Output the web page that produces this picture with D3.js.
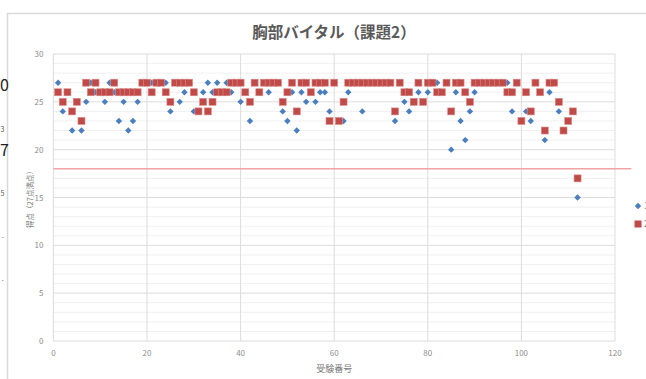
<!DOCTYPE html>
<html lang="ja">
<head>
  <meta charset="UTF-8" />
  <title>胸部バイタル（課題2）</title>
  <style>
    body { margin: 0; background: #fff; }
    svg { display: block; font-family: "Noto Sans CJK JP", "Noto Sans", sans-serif; }
    .tick-label { fill: #8c8c8c; font-size: 8px; }
  </style>
</head>
<body>
  <svg width="646" height="379"></svg>
  <script src="https://d3js.org/d3.v7.min.js"></script>
  <script>
    // 受験番号 1..112
    const ids = d3.range(1, 113);

    // series 1 (blue diamonds)
    const blueScores = [
      27,24,26,22,25,22,25,27,26,26,
      25,27,26,23,25,22,23,25,27,27,
      27,27,27,27,24,27,25,26,27,24,
      24,26,27,26,27,26,27,26,27,25,
      26,23,27,26,27,26,27,27,24,23,
      26,22,26,25,26,25,26,26,24,27,
      23,23,26,27,27,24,27,27,27,27,
      27,27,23,27,25,24,25,26,25,26,
      27,27,26,27,20,26,23,21,24,26,
      27,27,27,27,27,27,27,24,27,23,
      24,23,27,26,21,26,27,24,22,23,24,15
    ];

    // series 2 (red squares)
    const redScores = [
      26,25,26,24,25,23,27,26,27,26,
      26,26,27,26,26,26,26,26,27,27,
      26,27,27,26,25,27,27,27,27,26,
      24,25,24,25,26,26,26,27,27,27,
      26,25,27,26,27,27,27,27,25,26,
      27,24,27,27,26,27,27,27,23,27,
      23,25,27,27,27,27,27,27,27,27,
      27,27,24,27,26,26,25,27,25,27,
      27,26,26,27,24,27,27,26,25,27,
      27,27,27,27,27,27,26,26,27,23,
      26,24,27,26,22,27,27,25,22,23,24,17
    ];

    const xTicks = [0, 20, 40, 60, 80, 100, 120];
    const yTicks = [0, 5, 10, 15, 20, 25, 30];
    const passLine = 18;

    const svg = d3.select("svg");

    const x = d3.scaleLinear().domain([0, 120]).range([53.4, 615]);
    const y = d3.scaleLinear().domain([0, 30]).range([341, 54]);

    // chart frame
    svg.append("path")
      .attr("d", "M7.5,380 V13.5 H650")
      .attr("fill", "none")
      .attr("stroke", "#d9d9d9")
      .attr("stroke-width", 1.5);

    // bits of the page behind the chart, at the left edge
    const edge = svg.append("g").attr("fill", "#222");
    edge.append("text").attr("x", 0).attr("y", 91).attr("font-size", 16).text("0");
    edge.append("text").attr("x", 0).attr("y", 156).attr("font-size", 16).text("7");
    edge.append("text").attr("x", 0.5).attr("y", 132).attr("font-size", 7).attr("fill", "#555").text("3");
    edge.append("text").attr("x", 0.5).attr("y", 196).attr("font-size", 7).attr("fill", "#555").text("5");
    edge.append("text").attr("x", 0.5).attr("y", 240).attr("font-size", 8).attr("fill", "#777").text("·");
    edge.append("text").attr("x", 0.5).attr("y", 283).attr("font-size", 8).attr("fill", "#777").text("·");

    // minor horizontal grid
    svg.append("g")
      .selectAll("line")
      .data(d3.range(0, 31).filter(v => v % 5 !== 0))
      .join("line")
      .attr("x1", x(0)).attr("x2", x(120))
      .attr("y1", d => y(d)).attr("y2", d => y(d))
      .attr("stroke", "#f0f0f0");

    // major grid
    svg.append("g")
      .selectAll("line")
      .data(yTicks)
      .join("line")
      .attr("x1", x(0)).attr("x2", x(120))
      .attr("y1", d => y(d)).attr("y2", d => y(d))
      .attr("stroke", "#dcdcdc");

    svg.append("g")
      .selectAll("line")
      .data(xTicks)
      .join("line")
      .attr("x1", d => x(d)).attr("x2", d => x(d))
      .attr("y1", y(0)).attr("y2", y(30))
      .attr("stroke", "#dcdcdc");

    // axes labels
    svg.append("g")
      .selectAll("text")
      .data(yTicks)
      .join("text")
      .attr("class", "tick-label")
      .attr("x", x(0) - 10)
      .attr("y", d => y(d) + 3)
      .attr("text-anchor", "end")
      .text(d => d);

    svg.append("g")
      .selectAll("text")
      .data(xTicks)
      .join("text")
      .attr("class", "tick-label")
      .attr("x", d => x(d))
      .attr("y", 356)
      .attr("text-anchor", "middle")
      .text(d => d);

    svg.append("text")
      .attr("x", (x(0) + x(120)) / 2)
      .attr("y", 372)
      .attr("text-anchor", "middle")
      .attr("font-size", 9)
      .attr("fill", "#7a7a7a")
      .text("受験番号");

    svg.append("text")
      .attr("transform", `translate(33,${y(15)}) rotate(-90)`)
      .attr("text-anchor", "middle")
      .attr("font-size", 7.5)
      .attr("fill", "#7a7a7a")
      .text("得点（27点満点）");

    // title
    svg.append("text")
      .attr("x", 334)
      .attr("y", 38)
      .attr("text-anchor", "middle")
      .attr("font-size", 15.5)
      .attr("font-weight", "bold")
      .attr("fill", "#5a5a5a")
      .text("胸部バイタル（課題2）");

    // pass line
    svg.append("line")
      .attr("x1", x(0)).attr("x2", x(123.5))
      .attr("y1", y(passLine)).attr("y2", y(passLine))
      .attr("stroke", "#f2a3a3")
      .attr("stroke-width", 1.5);

    const diamond = d3.symbol().type(d3.symbolDiamond2).size(26);

    svg.append("g")
      .selectAll("path")
      .data(ids)
      .join("path")
      .attr("d", diamond)
      .attr("transform", (d, i) => `translate(${x(d)},${y(blueScores[i])})`)
      .attr("fill", "#4a7ebf");

    svg.append("g")
      .selectAll("rect")
      .data(ids)
      .join("rect")
      .attr("x", d => x(d) - 3.5)
      .attr("y", (d, i) => y(redScores[i]) - 3.5)
      .attr("width", 7)
      .attr("height", 7)
      .attr("fill", "#bf4a47")
      .attr("stroke", "#d98a88")
      .attr("stroke-width", 0.6);

    // legend, cut by the right edge
    const legend = svg.append("g");
    legend.append("path")
      .attr("d", diamond)
      .attr("transform", "translate(638,206)")
      .attr("fill", "#4a7ebf");
    legend.append("rect")
      .attr("x", 634.5).attr("y", 220.5)
      .attr("width", 7).attr("height", 7)
      .attr("fill", "#bf4a47");
    legend.append("text").attr("x", 644).attr("y", 209).attr("font-size", 9).attr("fill", "#777").text("1回目");
    legend.append("text").attr("x", 644).attr("y", 227).attr("font-size", 9).attr("fill", "#777").text("2回目");
  </script>
</body>
</html>
